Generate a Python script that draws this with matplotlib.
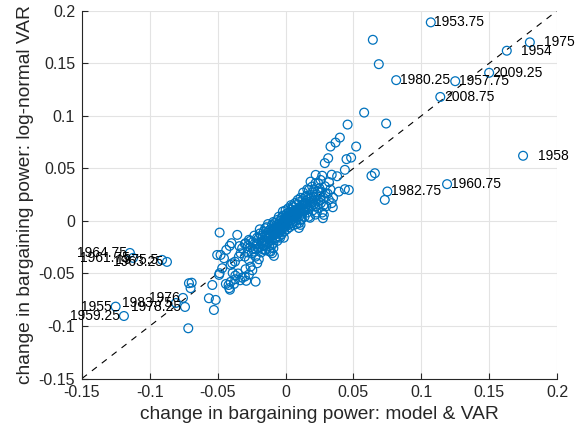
import matplotlib
matplotlib.use("Agg")
import matplotlib.pyplot as plt

plt.rcParams['font.family'] = ['Liberation Sans', 'DejaVu Sans']
plt.rcParams['lines.scale_dashes'] = False

# ---- data: unlabeled points (model & VAR, log-normal VAR) ----
x_vals = [
    0.0643, 0.0687, 0.0579, 0.0741, 0.0457, 0.0400, 0.0368, 0.0331, 0.0520, 0.0314,
    0.0289, 0.0483, 0.0449, 0.0437, 0.0658, 0.0633, 0.0222, 0.0270, 0.0340, 0.0380,
    0.0466, 0.0437, 0.0392, 0.0319, 0.0339, 0.0348, 0.0275, 0.0282, 0.0258, 0.0221,
    0.0184, 0.0196, 0.0294, 0.0258, 0.0172, 0.0147, 0.0258, 0.0258, 0.0731,
    -0.0486, -0.0356, -0.0398, -0.0412, -0.0295, -0.0479, -0.0454, -0.0437, -0.0331, -0.0344,
    -0.0393, -0.0373, -0.0405, -0.0233, -0.0221, -0.0197, -0.0209, -0.0270, -0.0258, -0.0295,
    -0.0099, -0.0086, -0.0110, -0.0147, -0.0486, -0.0467, -0.0390, -0.0370, -0.0350, -0.0320,
    -0.0335, -0.0370, -0.0405, -0.0420, -0.0415, -0.0410, -0.0440, -0.0380, -0.0290, -0.0300,
    -0.0270, -0.0245, -0.0221, -0.0540, -0.0565, -0.0515, -0.0528, -0.0717, -0.0712, -0.0692,
    -0.0700, -0.0504, -0.0490,
    -0.030, -0.028, -0.027, -0.026, -0.025, -0.024, -0.023, -0.022, -0.021, -0.020,
    -0.020, -0.019, -0.018, -0.018, -0.017, -0.016, -0.016, -0.015, -0.015, -0.014,
    -0.014, -0.013, -0.013, -0.012, -0.012, -0.011, -0.011, -0.010, -0.010, -0.010,
    -0.009, -0.009, -0.008, -0.008, -0.008, -0.007, -0.007, -0.007, -0.006, -0.006,
    -0.006, -0.005, -0.005, -0.005, -0.004, -0.004, -0.004, -0.003, -0.003, -0.003,
    -0.002, -0.002, -0.002, -0.001, -0.001, -0.001, 0.000, 0.000, 0.000, 0.001,
    0.001, 0.001, 0.002, 0.002, 0.002, 0.003, 0.003, 0.003, 0.004, 0.004,
    0.004, 0.005, 0.005, 0.005, 0.006, 0.006, 0.006, 0.007, 0.007, 0.007,
    0.008, 0.008, 0.008, 0.009, 0.009, 0.010, 0.010, 0.010, 0.011, 0.011,
    0.012, 0.012, 0.013, 0.013, 0.014, 0.014, 0.015, 0.015, 0.016, 0.016,
    0.017, 0.018, 0.018, 0.019, 0.020, 0.020, 0.021, 0.022, 0.022, 0.023,
    0.024, 0.025, 0.026, 0.027, 0.028, 0.029, 0.030, 0.031, 0.032,
    -0.019, -0.017, -0.015, -0.013, -0.012, -0.011, -0.009, -0.009, -0.008, -0.006,
    -0.005, -0.004, -0.003, -0.002, -0.001, 0.000, 0.001, 0.002, 0.003, 0.004,
    0.005, 0.006, 0.007, 0.008, 0.009, 0.010, 0.011, 0.012, 0.013, 0.014,
    0.016, 0.017, 0.019, 0.021, 0.023, 0.024, 0.0098, 0.0110, -0.0013, -0.0100,
    -0.028, -0.026, -0.024, -0.023, -0.021, -0.019, -0.018, -0.017, -0.016, -0.015,
    -0.014, -0.013, -0.012, -0.011, -0.010, -0.009, -0.008, -0.007, -0.006, -0.005,
    -0.004, -0.003, -0.002, -0.001, 0.000, 0.001, 0.002, 0.003, 0.004, 0.005,
    0.006, 0.007, 0.008, 0.009, 0.010, 0.011, 0.012, 0.013, 0.015, 0.016,
    0.018, 0.019, 0.021, 0.022, 0.024, 0.026, 0.028, 0.033, 0.035, -0.032,
    -0.030, -0.034,
]
y_vals = [
    0.1724, 0.1492, 0.1031, 0.0927, 0.0917, 0.0793, 0.0746, 0.0708, 0.0708, 0.0597,
    0.0550, 0.0603, 0.0588, 0.0486, 0.0454, 0.0429, 0.0438, 0.0430, 0.0440, 0.0425,
    0.0295, 0.0302, 0.0279, 0.0200, 0.0169, 0.0130, 0.0026, 0.0057, 0.0390, 0.0359,
    0.0374, 0.0327, 0.0264, 0.0270, 0.0295, 0.0231, 0.0231, 0.0200, 0.0200,
    -0.0111, -0.0133, -0.0212, -0.0238, -0.0212, -0.0324, -0.0355, -0.0276, -0.0308, -0.0340,
    -0.0403, -0.0388, -0.0419, -0.0292, -0.0340, -0.0365, -0.0403, -0.0371, -0.0435, -0.0460,
    -0.0308, -0.0333, -0.0292, -0.0276, -0.0498, -0.0450, -0.0495, -0.0520, -0.0500, -0.0540,
    -0.0565, -0.0555, -0.0580, -0.0610, -0.0640, -0.0655, -0.0600, -0.0600, -0.0570, -0.0530,
    -0.0510, -0.0470, -0.0578, -0.0610, -0.0736, -0.0752, -0.0848, -0.1022, -0.0593, -0.0588,
    -0.0640, -0.0324, -0.0514,
    -0.022, -0.030, -0.018, -0.025, -0.031, -0.020, -0.014, -0.027, -0.022, -0.017,
    -0.026, -0.012, -0.021, -0.030, -0.016, -0.024, -0.010, -0.019, -0.028, -0.014,
    -0.006, -0.020, -0.011, -0.016, -0.024, -0.008, -0.013, -0.018, -0.004, -0.010,
    -0.014, -0.021, -0.007, -0.011, -0.002, -0.016, -0.009, -0.004, -0.012, -0.006,
    0.001, -0.009, -0.003, -0.015, -0.006, 0.000, -0.011, -0.004, 0.003, -0.008,
    -0.001, -0.006, 0.005, -0.003, 0.002, -0.010, 0.000, -0.005, 0.004, 0.002,
    -0.002, 0.007, 0.000, 0.005, -0.004, 0.003, 0.008, -0.001, 0.001, 0.006,
    0.011, 0.004, -0.002, 0.009, 0.002, 0.007, 0.013, 0.005, 0.010, 0.000,
    0.008, 0.003, 0.015, 0.006, 0.011, 0.004, 0.013, 0.018, 0.009, 0.001,
    0.012, 0.007, 0.016, 0.021, 0.010, 0.004, 0.014, 0.019, 0.008, 0.024,
    0.013, 0.018, 0.003, 0.022, 0.010, 0.027, 0.016, 0.006, 0.020, 0.025,
    0.012, 0.031, 0.017, 0.008, 0.022, 0.033, 0.014, 0.026, 0.037,
    -0.008, -0.027, -0.007, -0.003, -0.029, -0.019, -0.026, -0.001, -0.017, -0.019,
    0.004, -0.016, -0.013, 0.009, -0.007, 0.010, -0.008, 0.012, -0.006, 0.015,
    0.014, -0.004, 0.017, -0.003, 0.020, -0.002, 0.022, 0.002, 0.027, 0.017,
    0.030, 0.004, 0.014, 0.030, 0.008, 0.036, -0.0067, -0.0038, -0.0160, -0.0230,
    -0.024, -0.019, -0.027, -0.022, -0.016, -0.025, -0.014, -0.020, -0.018, -0.013,
    -0.022, -0.016, -0.009, -0.015, -0.012, -0.008, -0.013, -0.006, -0.009, -0.006,
    -0.002, -0.005, -0.003, 0.000, 0.002, 0.004, 0.002, 0.005, 0.003, 0.007,
    0.004, 0.008, 0.006, 0.009, 0.008, 0.012, 0.015, 0.011, 0.017, 0.013,
    0.021, 0.017, 0.023, 0.014, 0.019, 0.028, 0.015, 0.030, 0.022, -0.026,
    -0.034, -0.024,
]

# ---- labelled points ----
lab_txt = ['1953.75', '1975', '1954', '2009.25', '1980.25', '1957.75', '2008.75',
           '1958', '1960.75', '1982.75',
           '1964.75', '1961.75', '1975.5', '1963.25',
           '1955', '1959.25', '1983.75', '1976', '1978.25']
lab_x = [0.107, 0.180, 0.163, 0.150, 0.0815, 0.125, 0.114,
         0.175, 0.119, 0.075,
         -0.1147, -0.1124, -0.0910, -0.0874,
         -0.1252, -0.1191, -0.0808, -0.0756, -0.0741]
lab_y = [0.189, 0.170, 0.162, 0.141, 0.134, 0.133, 0.118,
         0.062, 0.035, 0.028,
         -0.0305, -0.0352, -0.0371, -0.0390,
         -0.0816, -0.0905, -0.0781, -0.0733, -0.0819]

# style: label offsets (points); positive -> left aligned, negative -> right aligned
lab_dx = [2.5, 10.5, 10.5, 2.5, 2.5, 2.5, 2.5,
          10.5, 2.5, 2.5,
          -2.0, -2.0, -2.5, -2.5,
          -2.5, -2.5, -2.5, -2.5, -2.5]

xticks = [-0.15, -0.1, -0.05, 0, 0.05, 0.1, 0.15, 0.2]
xtick_labels = ['-0.15', '-0.1', '-0.05', '0', '0.05', '0.1', '0.15', '0.2']
yticks = [-0.15, -0.1, -0.05, 0, 0.05, 0.1, 0.15, 0.2]
ytick_labels = ['-0.15', '-0.1', '-0.05', '0', '0.05', '0.1', '0.15', '0.2']

blue = '#0072BD'
dark = '#262626'

fig = plt.figure(figsize=(5.79, 4.40), dpi=100)
ax = fig.add_axes([82/579, 1 - 378.5/440, (557 - 82)/579, (378.5 - 10.8)/440])

ax.scatter(x_vals, y_vals, s=40, facecolors='none', edgecolors=blue, linewidths=0.9, zorder=3)
ax.scatter(lab_x, lab_y, s=40, facecolors='none', edgecolors=blue, linewidths=0.9, zorder=3)

ax.axline((0, 0), slope=1, color='black', linewidth=0.8, linestyle=(0, (4.5, 4.5)), zorder=2)

for t, xx, yy, dx in zip(lab_txt, lab_x, lab_y, lab_dx):
    ax.annotate(t, (xx, yy), xytext=(dx, 0), textcoords='offset points',
                ha='left' if dx > 0 else 'right', va='center',
                fontsize=10, color='black', zorder=4, annotation_clip=False)

ax.set_xlim(-0.15, 0.2)
ax.set_ylim(-0.15, 0.2)
ax.set_xticks(xticks)
ax.set_xticklabels(xtick_labels)
ax.set_yticks(yticks)
ax.set_yticklabels(ytick_labels)

ax.grid(True, color='#E3E3E3', linewidth=0.8, zorder=0)
ax.set_axisbelow(True)
for s in ['top', 'right']:
    ax.spines[s].set_visible(False)
for s in ['left', 'bottom']:
    ax.spines[s].set_color(dark)
    ax.spines[s].set_linewidth(0.8)

ax.tick_params(direction='in', length=4, width=0.8, colors=dark, labelsize=11.5, pad=5)
ax.set_xlabel('change in bargaining power: model & VAR', fontsize=13.8, color=dark, labelpad=4)
ax.set_ylabel('change in bargaining power: log-normal VAR', fontsize=13.8, color=dark, labelpad=3)

fig.savefig('out.png', dpi=100)
